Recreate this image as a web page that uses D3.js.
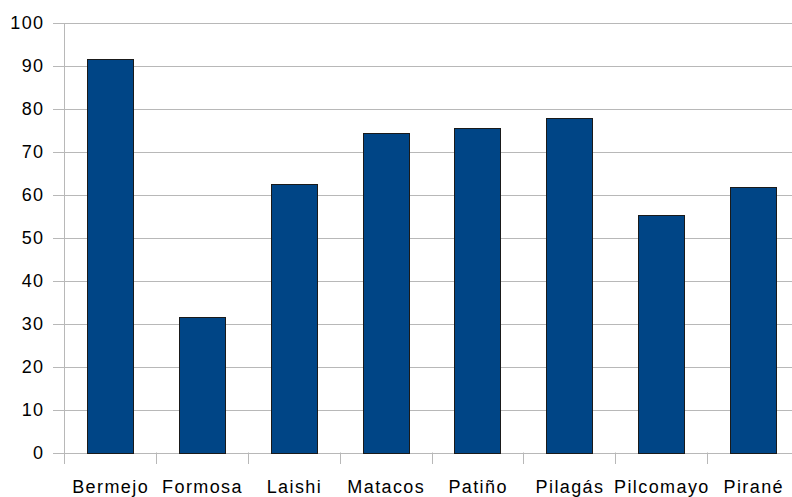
<!DOCTYPE html>
<html><head><meta charset="utf-8">
<script src="https://cdn.jsdelivr.net/npm/d3@7"></script>
<style>body{margin:0;background:#fff}svg{display:block}text{font-family:"Liberation Sans",Arial,sans-serif;font-size:18px;fill:#000;letter-spacing:1.4px}</style>
</head><body><svg id="c" width="792" height="497"></svg>
<script>
const categories = ["Bermejo","Formosa","Laishi","Matacos","Patiño","Pilagás","Pilcomayo","Pirané"];
const values = [91.6, 31.5, 62.5, 74.3, 75.5, 77.8, 55.3, 61.7];
const yTicks = [0,10,20,30,40,50,60,70,80,90,100];

(function(){
const svg = d3.select("#c");
const pL = 64, pR = 799, pT = 23, pB = 452.5;
const x = d3.scaleBand().domain(categories).range([pL, pR]).paddingInner(0).paddingOuter(0);
const y = d3.scaleLinear().domain([0,100]).range([pB, pT]);
const grid = "#b8b8b8";

svg.append("g").selectAll("line").data(yTicks).join("line")
  .attr("x1", 53).attr("x2", pR)
  .attr("y1", d => Math.round(y(d))+0.5).attr("y2", d => Math.round(y(d))+0.5)
  .attr("stroke", grid).attr("stroke-width", 1);
svg.append("line").attr("x1", pL+0.5).attr("x2", pL+0.5).attr("y1", pT).attr("y2", 464)
  .attr("stroke", grid);
const bounds = categories.map(c => x(c)).concat([x(categories[categories.length-1]) + x.bandwidth()]);
svg.append("g").selectAll("line").data(bounds).join("line")
  .attr("x1", d => Math.round(d)+0.5).attr("x2", d => Math.round(d)+0.5)
  .attr("y1", pB).attr("y2", 464).attr("stroke", grid);

svg.append("g").selectAll("text").data(yTicks).join("text")
  .attr("x", 44.5).attr("y", d => y(d)).attr("dy", "0.36em")
  .attr("text-anchor", "end").text(d => d);

const bw = x.bandwidth()/2;
svg.append("g").selectAll("rect").data(values).join("rect")
  .attr("x", (d,i) => Math.round(x(categories[i]) + x.bandwidth()/4)+0.5)
  .attr("width", Math.round(bw))
  .attr("y", d => Math.round(y(d))+0.5)
  .attr("height", d => Math.round(y(0)) - Math.round(y(d)))
  .attr("fill", "#004586").attr("stroke", "#1a1a1a").attr("stroke-width", 1);

svg.append("g").selectAll("text").data(categories).join("text")
  .attr("x", d => x(d) + x.bandwidth()/2 + 0.7).attr("y", 493)
  .attr("text-anchor", "middle").text(d => d);
})();
</script></body></html>
